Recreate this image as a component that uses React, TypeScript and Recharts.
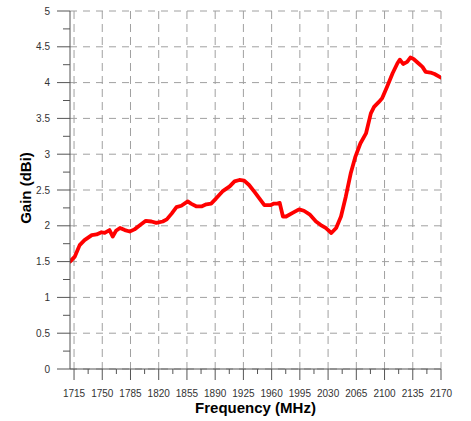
import React from 'react';
import { LineChart, Line, XAxis, YAxis, CartesianGrid, Label } from 'recharts';

const frequencies = [
  1710, 1716, 1722, 1728, 1737, 1743, 1749, 1753, 1759, 1763, 1767, 1772, 1778, 1784, 1790, 1797,
  1804, 1811, 1817, 1825, 1830, 1836, 1842, 1848, 1856, 1860, 1867, 1873, 1879, 1885, 1891, 1899,
  1908, 1914, 1920, 1926, 1932, 1939, 1945, 1951, 1959, 1963, 1967, 1970, 1974, 1978, 1986, 1994,
  2000, 2007, 2015, 2021, 2027, 2034, 2040, 2046, 2052, 2058, 2064, 2070, 2077, 2083, 2087, 2093,
  2097, 2103, 2110, 2116, 2119, 2123, 2128, 2132, 2136, 2143, 2147, 2151, 2157, 2162, 2170,
];

const gains = [
  1.50, 1.57, 1.73, 1.80, 1.87, 1.88, 1.91, 1.90, 1.94, 1.85, 1.93, 1.97, 1.94, 1.92, 1.95, 2.01,
  2.07, 2.06, 2.04, 2.06, 2.09, 2.17, 2.26, 2.28, 2.34, 2.31, 2.27, 2.27, 2.30, 2.31, 2.38, 2.48,
  2.55, 2.62, 2.64, 2.63, 2.57, 2.47, 2.38, 2.29, 2.29, 2.31, 2.31, 2.32, 2.13, 2.13, 2.18, 2.23,
  2.21, 2.16, 2.06, 2.01, 1.97, 1.90, 1.97, 2.13, 2.41, 2.73, 2.97, 3.15, 3.29, 3.57, 3.66, 3.73,
  3.78, 3.94, 4.13, 4.27, 4.32, 4.26, 4.29, 4.35, 4.33, 4.26, 4.22, 4.15, 4.14, 4.12, 4.07,
];

const xMajorTicks = [1715, 1750, 1785, 1820, 1855, 1890, 1925, 1960, 1995, 2030, 2065, 2100, 2135, 2170];
const xMinorTicks = [1732.5, 1767.5, 1802.5, 1837.5, 1872.5, 1907.5, 1942.5, 1977.5, 2012.5, 2047.5, 2082.5, 2117.5, 2152.5];
const yMajorTicks = [0, 0.5, 1, 1.5, 2, 2.5, 3, 3.5, 4, 4.5, 5];
const yMinorTicks = [0.25, 0.75, 1.25, 1.75, 2.25, 2.75, 3.25, 3.75, 4.25, 4.75];
const yTickLabels = ['0', '0.5', '1', '1.5', '2', '2.5', '3', '3.5', '4', '4.5', '5'];

const data = frequencies.map((f, i) => ({ freq: f, gain: gains[i] }));

const FONT = '"Liberation Sans", Arial, sans-serif';
const AXIS_COLOR = '#555555';
const TEXT_COLOR = '#333333';
const GRID_COLOR = '#a0a0a0';

const XTick = (props: any) => {
  const { x, y, payload } = props;
  const isMajor = xMajorTicks.includes(payload.value);
  return (
    <g>
      <line x1={x} y1={y} x2={x} y2={y + (isMajor ? 11 : 5)} stroke={AXIS_COLOR} strokeWidth={1} />
      {isMajor && (
        <text x={x} y={y + 28} textAnchor="middle" fontFamily={FONT} fontSize={10} fill={TEXT_COLOR}>
          {String(payload.value)}
        </text>
      )}
    </g>
  );
};

const YTick = (props: any) => {
  const { x, y, payload } = props;
  const idx = yMajorTicks.indexOf(payload.value);
  const isMajor = idx >= 0;
  return (
    <g>
      <line x1={x - (isMajor ? 13 : 7)} y1={y} x2={x} y2={y} stroke={AXIS_COLOR} strokeWidth={1} />
      {isMajor && (
        <text x={x - 20} y={y + 3.6} textAnchor="end" fontFamily={FONT} fontSize={10} fill={TEXT_COLOR}>
          {yTickLabels[idx]}
        </text>
      )}
    </g>
  );
};

export default function App() {
  return (
    <div style={{ position: 'absolute', left: 0, top: 0, width: 471, height: 421, background: '#fff' }}>
      <LineChart width={471} height={421} data={data} margin={{ top: 11, right: 30, bottom: 0, left: 0 }}>
        <CartesianGrid
          vertical={false}
          horizontalValues={yMajorTicks}
          stroke={GRID_COLOR}
          strokeDasharray="7 6"
        />
        <CartesianGrid
          horizontal={false}
          verticalValues={xMajorTicks}
          stroke={GRID_COLOR}
          strokeDasharray="8 5"
        />
        <XAxis
          dataKey="freq"
          type="number"
          domain={[1710, 2170]}
          ticks={[...xMajorTicks, ...xMinorTicks].sort((a, b) => a - b)}
          interval={0}
          height={52}
          tickLine={false}
          tickSize={0}
          tickMargin={0}
          tick={<XTick />}
          axisLine={{ stroke: AXIS_COLOR, strokeWidth: 1 }}
          allowDataOverflow
        >
          <Label
            content={(p: any) => {
              const vb = p.viewBox;
              return (
                <text
                  x={vb.x + vb.width / 2}
                  y={vb.y + 44}
                  textAnchor="middle"
                  fontFamily={FONT}
                  fontSize={15}
                  fontWeight="bold"
                  fill="#000"
                >
                  Frequency (MHz)
                </text>
              );
            }}
          />
        </XAxis>
        <YAxis
          type="number"
          domain={[0, 5]}
          ticks={[...yMajorTicks, ...yMinorTicks].sort((a, b) => a - b)}
          interval={0}
          width={70}
          tickLine={false}
          tickSize={0}
          tickMargin={0}
          tick={<YTick />}
          axisLine={{ stroke: AXIS_COLOR, strokeWidth: 1 }}
          allowDataOverflow
        >
          <Label
            content={(p: any) => {
              const vb = p.viewBox;
              const cx = vb.x + 31;
              const cy = vb.y + vb.height / 2 - 2;
              return (
                <text
                  x={cx}
                  y={cy}
                  transform={`rotate(-90, ${cx}, ${cy})`}
                  textAnchor="middle"
                  fontFamily={FONT}
                  fontSize={15}
                  fontWeight="bold"
                  fill="#000"
                >
                  Gain (dBi)
                </text>
              );
            }}
          />
        </YAxis>
        <Line
          type="linear"
          dataKey="gain"
          stroke="#ff0000"
          strokeWidth={3.8}
          strokeLinejoin="round"
          strokeLinecap="round"
          dot={false}
          activeDot={false}
          isAnimationActive={false}
        />
      </LineChart>
    </div>
  );
}
